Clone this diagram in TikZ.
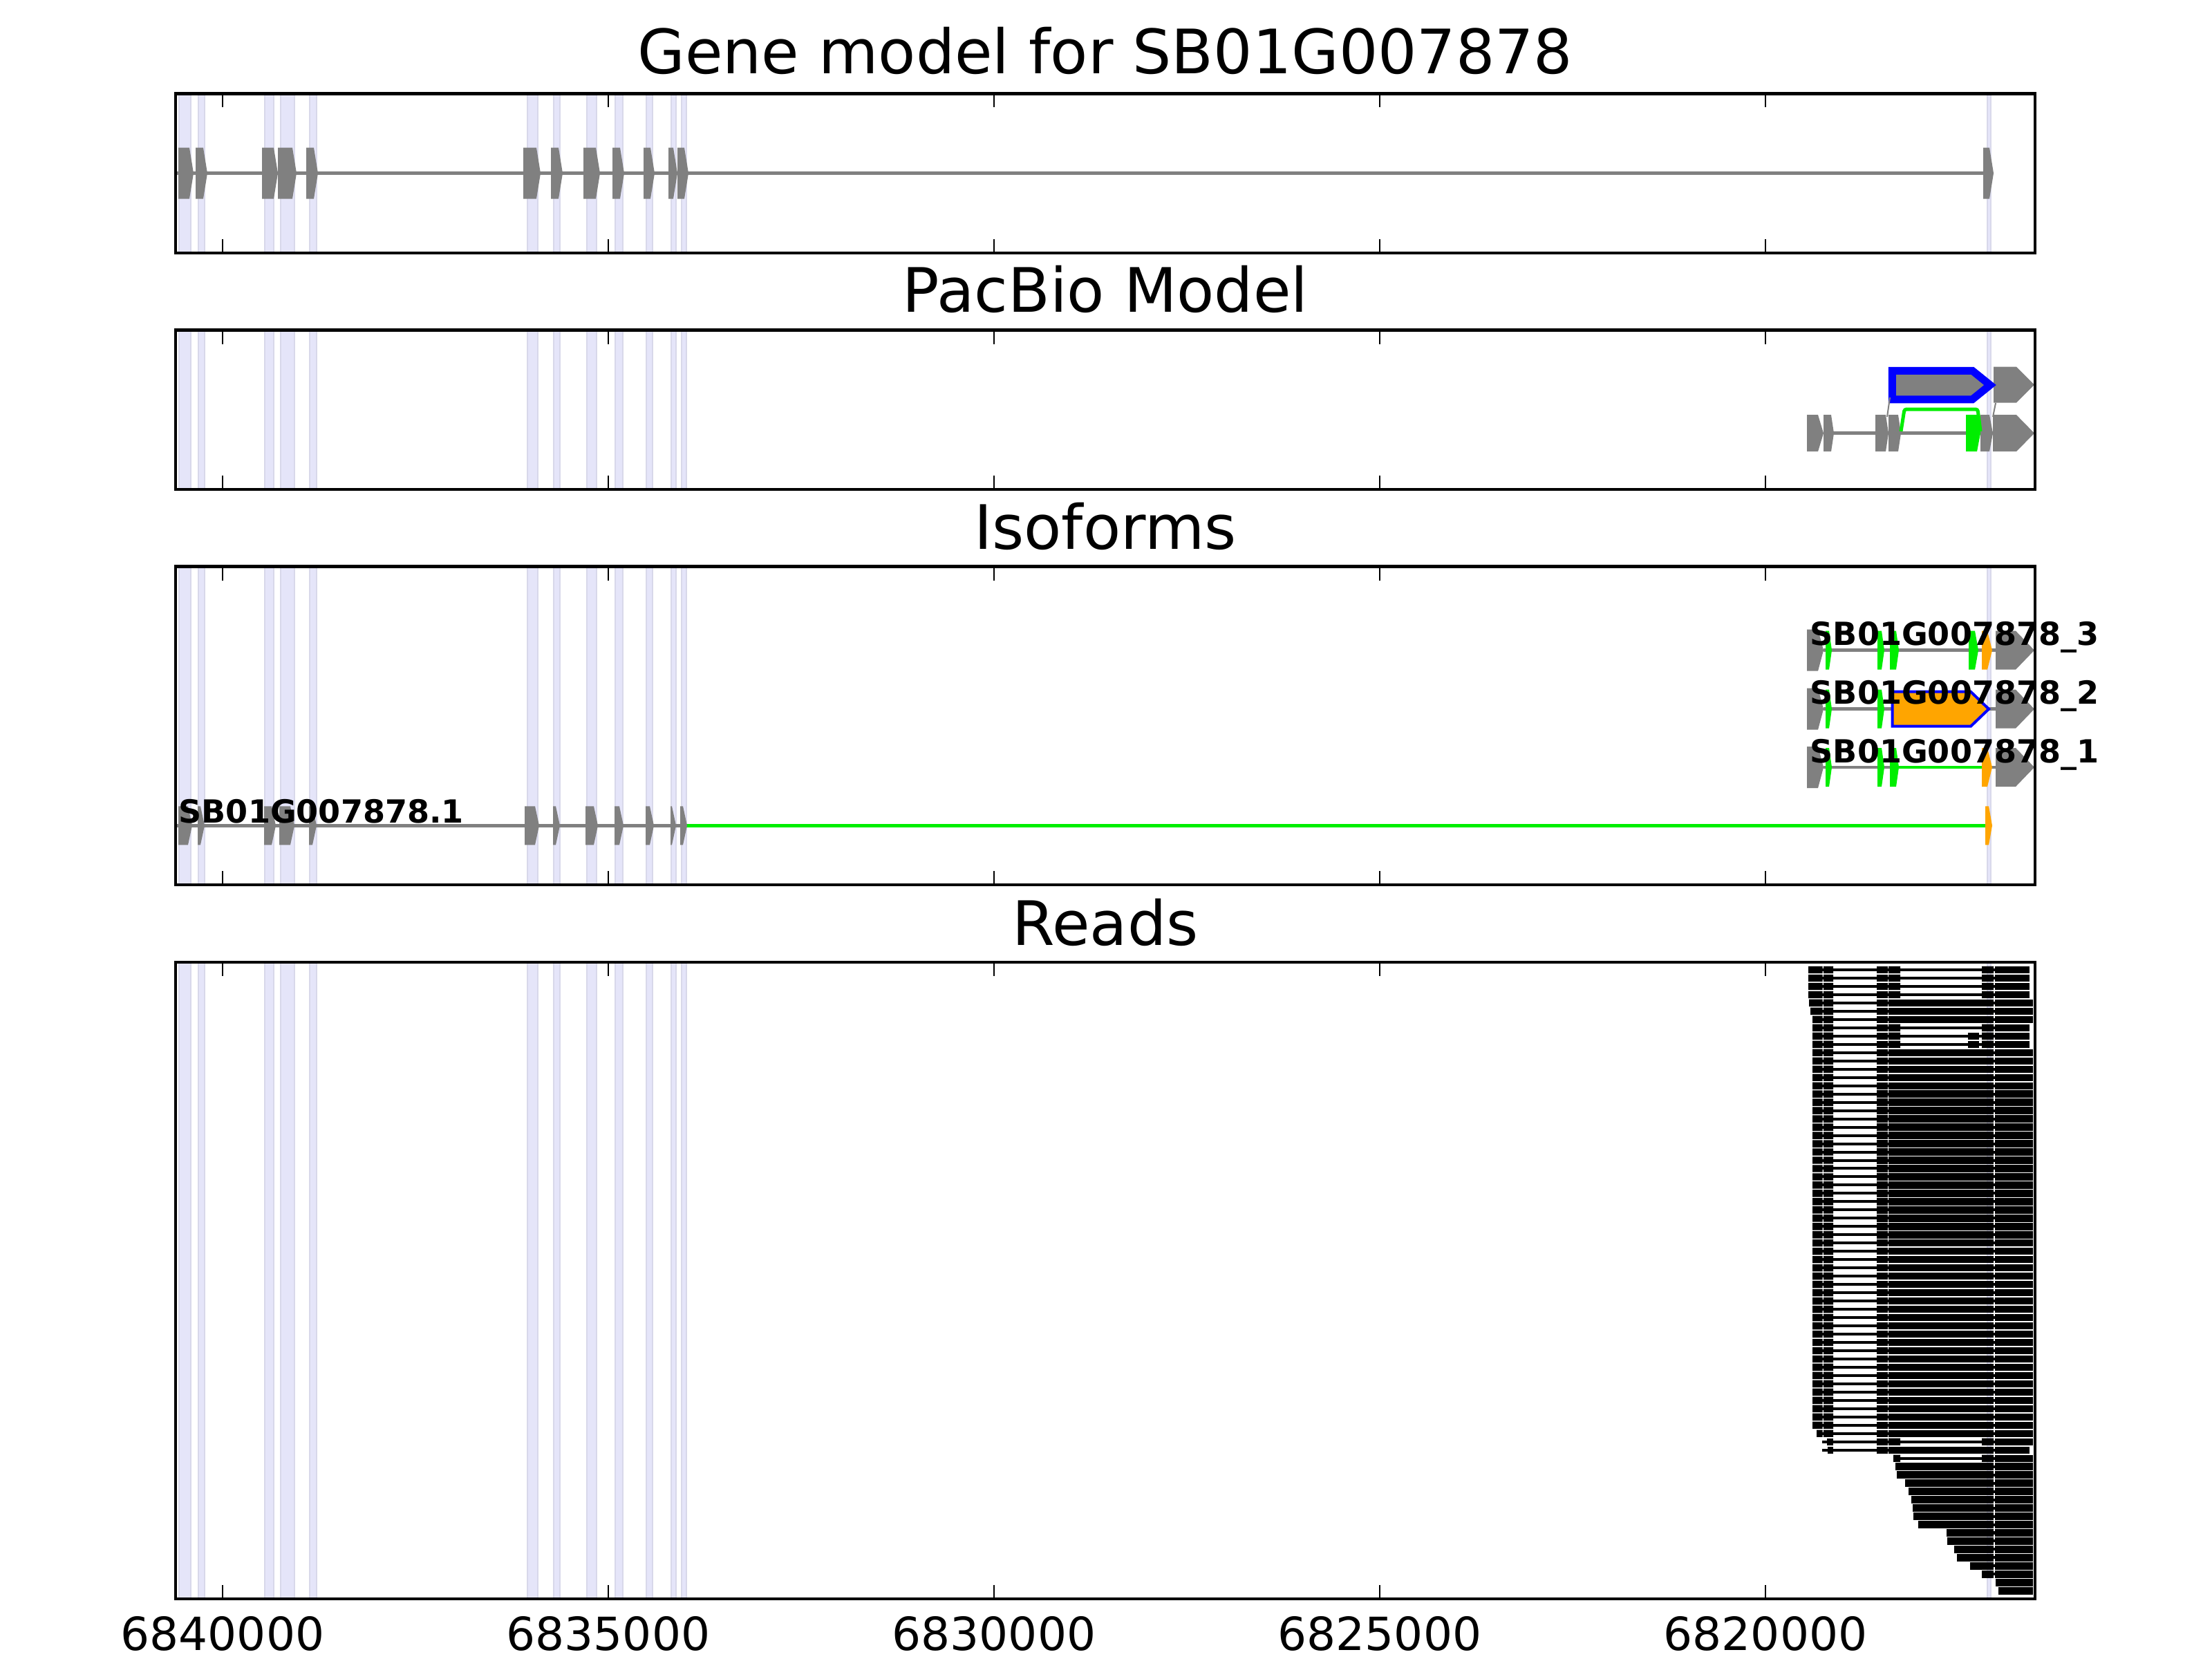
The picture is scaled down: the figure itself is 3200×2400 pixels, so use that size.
\documentclass[tikz,border=0pt]{standalone}
\usepackage{fontspec}
\setmainfont{DejaVu Sans}
\usepackage{tikz}

\definecolor{bandfill}{RGB}{229,229,249}
\definecolor{bandedge}{RGB}{216,216,234}
\definecolor{exongray}{RGB}{128,128,128}
\definecolor{isogreen}{RGB}{0,238,0}
\definecolor{isoorange}{RGB}{255,165,0}

% exon as an arrow: colour, left, right, centre, half height, head
\newcommand{\exonarrow}[6]{\fill[#1] (#2,#4-#5) -- (#3-#6,#4-#5) -- (#3,#4) -- (#3-#6,#4+#5) -- (#2,#4+#5) -- cycle;}

\begin{document}
\begin{tikzpicture}[x=0.01cm, y=-0.01cm,
    band/.style={fill=bandfill, draw=bandedge, line width=0.012cm},
    intron/.style={draw=exongray, line width=0.045cm},
    greenline/.style={draw=isogreen, line width=0.045cm},
    frame/.style={draw=black, line width=0.045cm},
    tickmark/.style={draw=black, line width=0.02cm},
    readexon/.style={fill=black},
    readline/.style={draw=black, line width=0.04cm},
    paneltitle/.style={anchor=base, inner sep=0pt, font=\fontsize{25.2}{30}\selectfont},
    ticklabel/.style={anchor=base, inner sep=0pt, font=\fontsize{18.8}{23}\selectfont},
    isolabel/.style={anchor=base west, inner sep=0pt, font=\bfseries\fontsize{13.1}{15}\selectfont}]

    \fill[white] (0,0) rectangle (3200,2400);
    \useasboundingbox (0,0) rectangle (3200,2400);

    \foreach \top/\bot in {135.5/365.8, 477.5/707.8, 819.5/1280.1, 1391.8/2313}
        \foreach \a/\b in {259/276, 287/296, 383/396, 406/426, 448/458, 763/778, 801/810, 849/863, 890/901, 935/944, 971/978, 986/993, 2875/2880}
            \filldraw[band] (\a,\top) rectangle (\b,\bot);

    \node[paneltitle] (genetitle) at (1599,107) {Gene model for SB01G007878};
    \node[paneltitle] (pacbiotitle) at (1599,451) {PacBio Model};
    \node[paneltitle] (isotitle) at (1599,794) {Isoforms};
    \node[paneltitle] (readstitle) at (1599,1367) {Reads};

    \draw[intron] (254,250.6) -- (2877,250.6);
    \foreach \a/\b in {258/280, 283/300, 379/402, 402/429, 443/460, 757/782, 797/814, 844/868, 886/903, 931/947, 967/980, 980/996, 2869/2884}
        {\exonarrow{exongray}{\a}{\b}{250.6}{37}{6}}

    \draw[intron] (2638,626.7) -- (2883,626.7);
    \exonarrow{exongray}{2614}{2638}{626.7}{26.5}{8}
    \exonarrow{exongray}{2638}{2653}{626.7}{26.5}{4}
    \exonarrow{exongray}{2713}{2732}{626.7}{26.5}{4}
    \exonarrow{exongray}{2732}{2750}{626.7}{26.5}{4}
    \exonarrow{isogreen}{2844}{2865}{626.7}{26.5}{5}
    \exonarrow{exongray}{2865}{2883}{626.7}{26.5}{5}
    \exonarrow{exongray}{2883}{2943}{626.7}{26.5}{26}
    \exonarrow{exongray}{2884}{2943}{556.7}{26}{26}
    \filldraw[fill=exongray, draw=blue, line width=0.11cm, line join=miter] (2737.3,536.3) -- (2853.3,536.3) -- (2879,557) -- (2853.3,577.8) -- (2737.3,577.8) -- cycle;
    \draw[isogreen, line width=0.05cm, rounded corners=0.03cm] (2750,624) -- (2755,592) -- (2861,592) -- (2865,624);
    \draw[exongray, line width=0.02cm] (2734,575) -- (2730,603) (2887,583) -- (2883,603);

    \draw[intron] (2638,940.7) -- (2887,940.7);
    \exonarrow{exongray}{2614}{2638}{940.7}{30}{8}
    \exonarrow{isogreen}{2641}{2650}{940.7}{28}{4}
    \exonarrow{isogreen}{2716}{2726}{940.7}{28}{4}
    \exonarrow{isogreen}{2734}{2747}{940.7}{28}{4}
    \exonarrow{isogreen}{2848}{2862}{940.7}{28}{5}
    \exonarrow{isoorange}{2867}{2882}{940.7}{28}{7}
    \exonarrow{exongray}{2887}{2943}{940.7}{28}{27}

    \draw[intron] (2638,1025.7) -- (2887,1025.7);
    \exonarrow{exongray}{2614}{2638}{1025.7}{30}{8}
    \exonarrow{isogreen}{2641}{2650}{1025.7}{28}{4}
    \exonarrow{isogreen}{2716}{2726}{1025.7}{28}{4}
    \filldraw[fill=isoorange, draw=blue, line width=0.04cm, line join=miter] (2737.7,1000.7) -- (2851,1000.7) -- (2877,1025.7) -- (2851,1050.7) -- (2737.7,1050.7) -- cycle;
    \exonarrow{exongray}{2887}{2943}{1025.7}{28}{27}

    \draw[intron] (2638,1110) -- (2747,1110) (2878,1110) -- (2887,1110);
    \draw[greenline] (2747,1110) -- (2872,1110);
    \exonarrow{exongray}{2614}{2638}{1110}{30}{8}
    \exonarrow{isogreen}{2641}{2650}{1110}{28}{4}
    \exonarrow{isogreen}{2716}{2726}{1110}{28}{4}
    \exonarrow{isogreen}{2734}{2747}{1110}{28}{4}
    \exonarrow{isoorange}{2867}{2882}{1110}{28}{7}
    \exonarrow{exongray}{2887}{2943}{1110}{28}{27}

    \draw[intron] (254,1194.3) -- (987,1194.3);
    \draw[greenline] (987,1194.3) -- (2877,1194.3);
    \foreach \a/\b in {258/278, 286/296, 382/399, 404/426, 447/458, 759/780, 800/810, 847/865, 889/902, 934/946, 970/978, 984/994}
        {\exonarrow{exongray}{\a}{\b}{1194.3}{28}{6}}
    \exonarrow{isoorange}{2872}{2882}{1194.3}{28}{5}

    \node[isolabel] (iso3) at (2618,933) {SB01G007878\_3};
    \node[isolabel] (iso2) at (2618,1018) {SB01G007878\_2};
    \node[isolabel] (iso1) at (2618,1103) {SB01G007878\_1};
    \node[isolabel] (gene1) at (258,1190) {SB01G007878.1};

    \begin{scope}[shift={(0,1391.03)}, y=-0.1197cm]
        \foreach \k in {1,...,59}
            \draw[readline] (2636,\k) -- (2936,\k);
        \foreach \k/\s in {60/2739, 61/2742, 62/2744, 63/2756, 64/2761, 65/2765, 66/2767, 67/2768, 68/2775, 69/2816, 70/2817, 71/2827, 72/2831, 73/2850, 74/2867}
            \draw[readline] (\s,\k) -- (2936,\k);

        \foreach \k/\s in {1/2616, 2/2616, 3/2616, 4/2616, 5/2617, 6/2619, 57/2628}
            \fill[readexon] (\s,\k-0.434) rectangle (2636.5,\k+0.434) (2638,\k-0.434) rectangle (2652,\k+0.434);
        \foreach \k in {7,...,56}
            \fill[readexon] (2622,\k-0.434) rectangle (2636.5,\k+0.434) (2638,\k-0.434) rectangle (2652,\k+0.434);
        \foreach \k/\s in {58/2643, 59/2644}
            \fill[readexon] (\s,\k-0.434) rectangle (2652,\k+0.434);
        \foreach \k in {1,...,59}
            \fill[readexon] (2715,\k-0.434) rectangle (2730.5,\k+0.434);

        \foreach \k in {1,2,3,4,8,9,10,58}
            \fill[readexon] (2732,\k-0.434) rectangle (2749,\k+0.434) (2867,\k-0.434) rectangle (2884,\k+0.434);
        \foreach \k in {9,10}
            \fill[readexon] (2847,\k-0.434) rectangle (2863,\k+0.434);
        \foreach \k in {5,6,7,59}
            \fill[readexon] (2732,\k-0.434) rectangle (2884,\k+0.434);
        \foreach \k in {11,...,57}
            \fill[readexon] (2732,\k-0.434) rectangle (2884,\k+0.434);
        \fill[readexon] (2739,60-0.434) rectangle (2749,60+0.434) (2867,60-0.434) rectangle (2884,60+0.434);
        \foreach \k/\s in {61/2742, 62/2744, 63/2756, 64/2761, 65/2765, 66/2767, 67/2768, 68/2775, 69/2816, 70/2817, 71/2827, 72/2831, 73/2850, 74/2867}
            \fill[readexon] (\s,\k-0.434) rectangle (2884,\k+0.434);

        \foreach \k in {1,2,3,4,8,9,10,59}
            \fill[readexon] (2885.5,\k-0.434) rectangle (2936,\k+0.434);
        \foreach \k in {5,6,7,58,60}
            \fill[readexon] (2885.5,\k-0.434) rectangle (2941,\k+0.434);
        \foreach \k in {11,...,57}
            \fill[readexon] (2885.5,\k-0.434) rectangle (2941,\k+0.434);
        \foreach \k in {61,...,74}
            \fill[readexon] (2885.5,\k-0.434) rectangle (2941,\k+0.434);
        \foreach \k/\s in {75/2887, 76/2891}
            \fill[readexon] (\s,\k-0.434) rectangle (2941,\k+0.434);
    \end{scope}

    \foreach \top/\bot in {135.5/365.8, 477.5/707.8, 819.5/1280.1, 1391.8/2313} {
        \foreach \t in {322,880,1438,1996,2554}
            \draw[tickmark] (\t,\top) -- (\t,\top+20) (\t,\bot) -- (\t,\bot-20);
        \draw[frame] (254,\top) rectangle (2944,\bot);
    }

    \node[ticklabel] (tick6840000) at (322,2387) {6840000};
    \node[ticklabel] (tick6835000) at (880,2387) {6835000};
    \node[ticklabel] (tick6830000) at (1438,2387) {6830000};
    \node[ticklabel] (tick6825000) at (1996,2387) {6825000};
    \node[ticklabel] (tick6820000) at (2554,2387) {6820000};
\end{tikzpicture}
\end{document}
